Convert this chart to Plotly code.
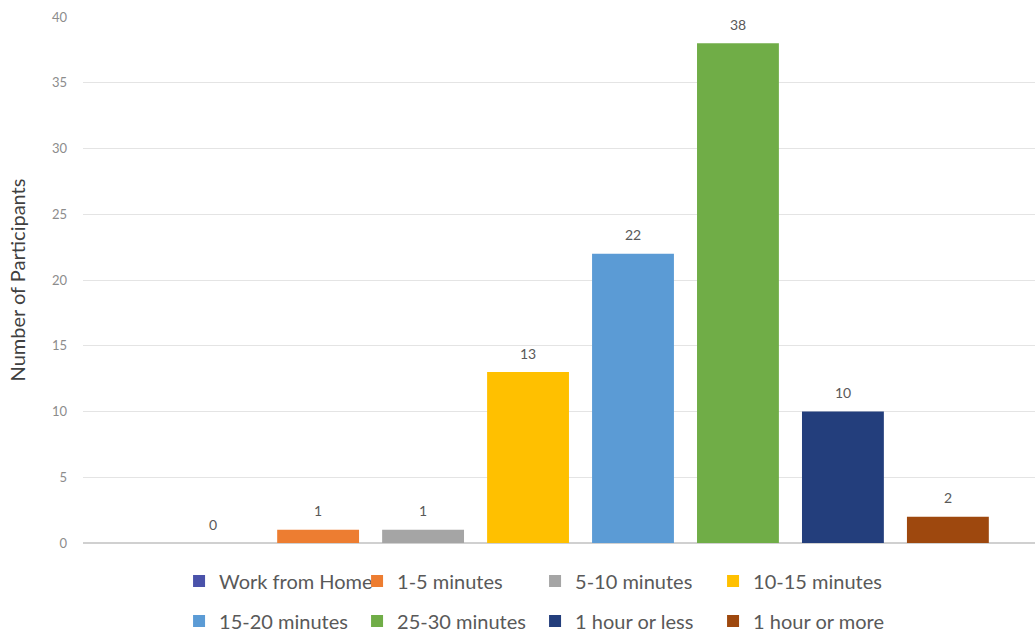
import plotly.graph_objects as go

categories = ["Work from Home", "1-5 minutes", "5-10 minutes", "10-15 minutes",
              "15-20 minutes", "25-30 minutes", "1 hour or less", "1 hour or more"]
participants = [0, 1, 1, 13, 22, 38, 10, 2]
colors = ["#4A52AA", "#ED7D31", "#A5A5A5", "#FFC000",
          "#5B9BD5", "#70AD47", "#233E7C", "#9E480E"]
y_ticks = [0, 5, 10, 15, 20, 25, 30, 35, 40]

FONT = "Lato"

fig = go.Figure()
for i, (cat, val, col) in enumerate(zip(categories, participants, colors)):
    # first four series in the top legend row, the rest in the second row
    fig.add_trace(go.Bar(
        x=[i], y=[val], name=cat, width=0.78,
        legend="legend" if i < 4 else "legend2",
        marker=dict(color=col, line=dict(width=0)),
    ))
    # value label floating above each bar
    fig.add_annotation(
        x=i, y=val, text=str(val), showarrow=False,
        yanchor="middle", yshift=19,
        font=dict(size=14, color="#595959", family=FONT),
    )

legend_common = dict(
    orientation="h", xref="container", yref="container",
    x=0.173, xanchor="left", yanchor="middle",
    entrywidth=133, entrywidthmode="pixels", itemwidth=30,
    font=dict(size=20, color="#595959", family=FONT),
    bgcolor="rgba(0,0,0,0)",
)

fig.update_layout(
    width=1035, height=633,
    margin=dict(l=83, r=0, t=17, b=90),
    paper_bgcolor="white", plot_bgcolor="white",
    barmode="overlay",
    font=dict(family=FONT, color="#595959"),
    xaxis=dict(range=[-1.24, 7.83], showticklabels=False, showgrid=False,
               zeroline=False, showline=False, ticks=""),
    yaxis=dict(range=[0, 40], tickvals=y_ticks, showgrid=True,
               gridcolor="#E4E4E4", gridwidth=1, zeroline=True,
               zerolinecolor="#D0D0D0", zerolinewidth=1.5,
               tickfont=dict(size=13, color="#8C8C8C", family=FONT), ticks="",
               ticklabelstandoff=15,
               title=dict(text="Number of Participants",
                          font=dict(size=20, color="#404040", family=FONT),
                          standoff=20)),
    legend=dict(legend_common, y=1 - 581 / 633),
    legend2=dict(legend_common, y=1 - 621 / 633),
    showlegend=True,
)

fig.write_html("out.html")
